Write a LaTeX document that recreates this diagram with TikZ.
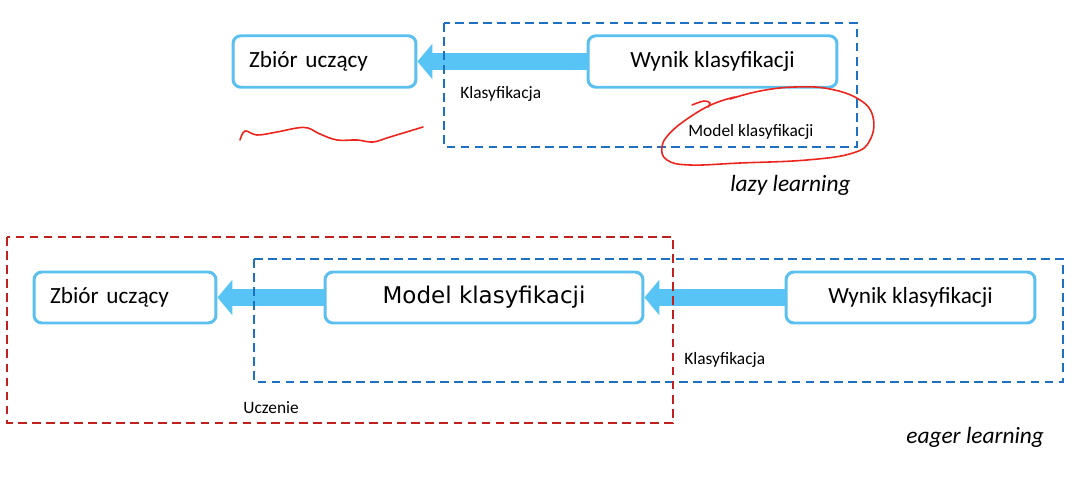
\documentclass[tikz,border=0pt]{standalone}
\usepackage{fontspec}
\setmainfont{Carlito}
\newfontfamily\verdanaish{DejaVu Sans}
\usetikzlibrary{arrows.meta, positioning}
\definecolor{boxblue}{RGB}{91,192,240}
\definecolor{arrblue}{RGB}{88,196,246}
\definecolor{grpblue}{RGB}{30,112,192}
\definecolor{grpred}{RGB}{192,32,30}
\definecolor{inkred}{RGB}{236,36,28}

\begin{document}
\begin{tikzpicture}[
    x=0.02cm, y=-0.02cm,
    every node/.style={font=\fontsize{13.2pt}{15pt}\selectfont},
    box/.style  ={draw=boxblue, line width=1.7pt, rounded corners=4.5pt,
                  fill=white, align=center, minimum height=1.03cm},
    boxl/.style ={box, align=left, inner xsep=0.32cm},
    flow/.style ={-{Triangle[length=8.5pt, width=19.8pt]}, draw=arrblue,
                  line width=10.2pt},
    grp/.style  ={line width=1.7pt, dash pattern=on 5pt off 3pt},
    note/.style ={anchor=west, inner sep=0pt, font=\fontsize{9.9pt}{12pt}\selectfont},
    tag/.style  ={anchor=west, inner sep=0pt, font=\fontsize{13.3pt}{15pt}\selectfont\itshape},
    scrib/.style={inkred, line width=0.9pt, line cap=round, line join=round},
]
\useasboundingbox (0,0) rectangle (1090,490);

% lazy learning
\node[boxl, text width=3.02cm] (zbiorA) at (324.5,61.5) {Zbiór uczący};
\node[box, minimum width=4.98cm] (wynikA) at (712.5,61.5) {Wynik klasyfikacji};
\draw[flow] (wynikA.west) -- (zbiorA.east);
\draw[grpblue, grp] (444,23) rectangle (857,147);
\node[note] (klasA) at (460,94) {Klasyfikacja};
\node[note] (modelA) at (688,132) {Model klasyfikacji};
\node[tag] (lazy) at (730,185) {lazy learning};

% eager learning
\node[boxl, text width=3.0cm, minimum height=1.02cm] (zbiorB) at (125,297.5) {Zbiór uczący};
\node[box, minimum width=6.36cm, minimum height=1.02cm,
      font=\fontsize{13.1pt}{15pt}\verdanaish] (modelB) at (484,297.5) {Model klasyfikacji};
\node[box, minimum width=4.98cm, minimum height=1.02cm] (wynikB) at (910.5,297.5) {Wynik klasyfikacji};
\draw[flow] (modelB.west) -- (zbiorB.east);
\draw[flow] (wynikB.west) -- (modelB.east);
\draw[grpblue, grp] (254,259) rectangle (1063,382);
\draw[grpred, grp] (7,237) rectangle (673,423);
\node[note] (klasB) at (684,360) {Klasyfikacja};
\node[note] (ucz) at (243,408) {Uczenie};
\node[tag] (eager) at (906,437) {eager learning};

% hand marks
\draw[scrib] plot[smooth, tension=0.6] coordinates {(240,140) (245,131) (257,135) (277,132)
  (297,128) (308,128) (320,134) (337,140) (357,140) (373,142) (390,137) (423,127)};
\draw[scrib] plot[smooth, tension=0.6] coordinates {(692,105) (704,101) (710,103) (708,107)};
\draw[scrib] plot[smooth, tension=0.7] coordinates {(730,99) (760,91) (795,87) (830,89)
  (860,100) (873,117) (870,140) (853,153) (807,160) (740,163) (690,165) (667,160)
  (662,147) (670,133) (690,117) (713,104) (735,97)};
\end{tikzpicture}
\end{document}
